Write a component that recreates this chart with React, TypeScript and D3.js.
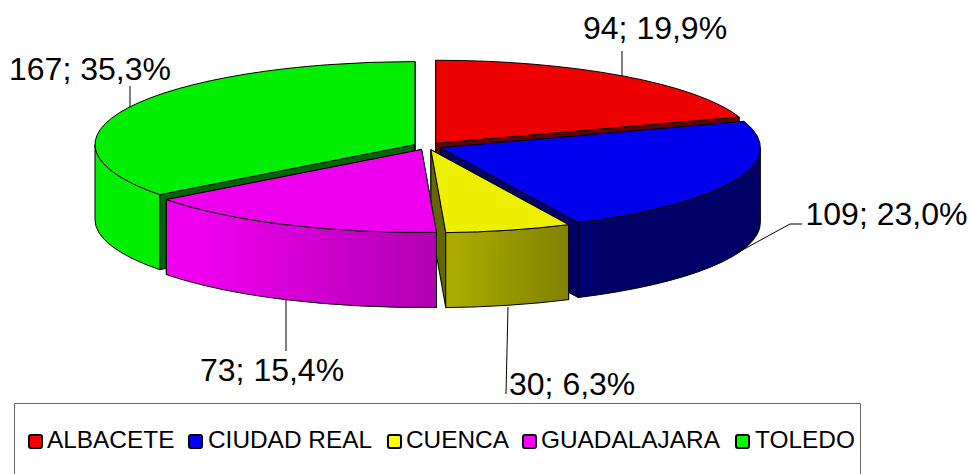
import React from "react";
import * as d3 from "d3";

const categories = ["ALBACETE", "CIUDAD REAL", "CUENCA", "GUADALAJARA", "TOLEDO"];
const values = [94, 109, 30, 73, 167];
const baseColors = ["#ee0000", "#0000ee", "#eeee00", "#ee00ee", "#00ee00"];
const legendColors = ["#ff0000", "#0000ff", "#ffff00", "#ff00ff", "#00ff00"];

const W = 971;
const H = 474;
const CX = 427.5;
const CY = 146.2;
const RX = 320;
const RY = 83;
const DEPTH = 75;
const EXPLODE = 14;
const drawOrder = [0, 4, 1, 2, 3];

// horizontal shading of the outer rim: [x in px, brightness]
const shadeStops: [number, number][] = [[96, 1], [200, 1], [440, 0.74], [569, 0.54], [600, 0.43], [761, 0.43]];

const labelLayout = [
  { x: 583, y: 39, line: [[622, 76], [622, 51]] },
  { x: 805.5, y: 225, line: [[737, 253], [790, 224], [802, 224]] },
  { x: 509, y: 394.5, line: [[508, 307], [506, 394]] },
  { x: 200, y: 381, line: [[286, 300], [286, 351]] },
  { x: 9, y: 79.5, line: [[130, 107], [130, 86]] },
];
const legendLayout = [
  { box: 28, text: 47 },
  { box: 188, text: 208 },
  { box: 387, text: 406 },
  { box: 522, text: 541 },
  { box: 735, text: 755 },
];

const fontFamily = "'Liberation Sans', Arial, sans-serif";
const total = d3.sum(values);
const fmtPct = d3.format(".1f");
const labelText = (v: number) => `${v}; ${fmtPct((v / total) * 100).replace(".", ",")}%`;

const pie = d3.pie<number>().sort(null).value((d) => d);
const slices = pie(values);

const xScale = d3.scaleLinear().domain([-1, 1]).range([-RX, RX]);
const yScale = d3.scaleLinear().domain([-1, 1]).range([-RY, RY]);

type P = [number, number];

function project(a: number, centre: P, r = 1, dz = 0): P {
  return [centre[0] + xScale(Math.sin(a) * r), centre[1] - yScale(Math.cos(a) * r) + dz];
}
const fx = (p: P) => `${p[0].toFixed(2)},${p[1].toFixed(2)}`;

function centreOf(a0: number, a1: number): P {
  const m = (a0 + a1) / 2;
  const e = EXPLODE / RX;
  return [CX + xScale(Math.sin(m) * e), CY - yScale(Math.cos(m) * e)];
}

function arcTo(p: P, a0: number, a1: number, sweep: number) {
  const large = Math.abs(a1 - a0) > Math.PI ? 1 : 0;
  return `A${RX},${RY} 0 ${large} ${sweep} ${fx(p)}`;
}

function topPath(c: P, a0: number, a1: number) {
  return `M${fx(c)} L${fx(project(a0, c))} ${arcTo(project(a1, c), a0, a1, 1)} Z`;
}
// only the front half of the rim (between 3 and 9 o'clock) can be seen
function rimPath(c: P, start: number, end: number) {
  const a0 = Math.max(start, Math.PI / 2);
  const a1 = Math.min(end, (3 * Math.PI) / 2);
  if (a0 >= a1) return null;
  return `M${fx(project(a0, c))} ${arcTo(project(a1, c), a0, a1, 1)} L${fx(project(a1, c, 1, DEPTH))} ${arcTo(project(a0, c, 1, DEPTH), a0, a1, 0)} Z`;
}
function cutPath(c: P, a: number) {
  const e = project(a, c);
  const eb = project(a, c, 1, DEPTH);
  return `M${fx(c)} L${fx(e)} L${fx(eb)} L${c[0].toFixed(2)},${(c[1] + DEPTH).toFixed(2)} Z`;
}
function shade(color: string, k: number) {
  const c = d3.rgb(color);
  return d3.rgb(c.r * k, c.g * k, c.b * k).formatHex();
}

const lineGen = d3.line();
const edge = { stroke: "#000", strokeWidth: 1, strokeLinejoin: "round" as const };

export default function App() {
  return (
    <svg
      width={W}
      height={H}
      viewBox={`0 0 ${W} ${H}`}
      style={{ position: "absolute", left: 0, top: 0, background: "#fff", display: "block" }}
      xmlns="http://www.w3.org/2000/svg"
    >
      <defs>
        {baseColors.map((col, i) => (
          <linearGradient key={i} id={`rim${i}`} gradientUnits="userSpaceOnUse" x1={96} x2={761} y1={0} y2={0}>
            {shadeStops.map(([x, k], j) => (
              <stop key={j} offset={(x - 96) / (761 - 96)} stopColor={shade(col, k)} />
            ))}
          </linearGradient>
        ))}
      </defs>

      {drawOrder.map((i) => {
        const s = slices[i];
        const c = centreOf(s.startAngle, s.endAngle);
        const dark = shade(baseColors[i], 0.43);
        const rim = rimPath(c, s.startAngle, s.endAngle);
        return (
          <g key={categories[i]}>
            <path d={cutPath(c, s.startAngle)} fill={dark} {...edge} />
            <path d={cutPath(c, s.endAngle)} fill={dark} {...edge} />
            {rim && <path d={rim} fill={`url(#rim${i})`} {...edge} />}
            <path d={topPath(c, s.startAngle, s.endAngle)} fill={baseColors[i]} {...edge} />
          </g>
        );
      })}

      {labelLayout.map((l, i) => (
        <path key={i} d={lineGen(l.line as P[]) ?? ""} fill="none" stroke="#000" strokeWidth={1} />
      ))}
      {labelLayout.map((l, i) => (
        <text key={i} x={l.x} y={l.y} fontFamily={fontFamily} fontSize={32} fill="#000">
          {labelText(values[i])}
        </text>
      ))}

      <path d={`M14.5,${H} V403.5 H860.5 V${H}`} fill="none" stroke="#666" strokeWidth={1} />
      {categories.map((name, i) => (
        <g key={name}>
          <rect x={legendLayout[i].box + 1} y={435} width={13} height={13} rx={2} fill={legendColors[i]} stroke="#000" strokeWidth={2} />
          <text x={legendLayout[i].text} y={448} fontFamily={fontFamily} fontSize={24.4} fill="#000">
            {name}
          </text>
        </g>
      ))}
    </svg>
  );
}
